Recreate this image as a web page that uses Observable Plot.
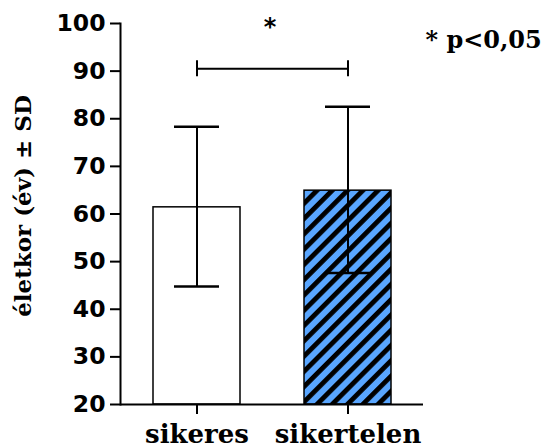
<!DOCTYPE html>
<html><head><meta charset="utf-8">
<script src="https://cdn.jsdelivr.net/npm/d3@7"></script>
<script src="https://cdn.jsdelivr.net/npm/@observablehq/plot@0.6"></script>
<style>body{margin:0;background:#fff}</style>
</head><body><div id="chart"></div>
<script>
const groups = ["sikeres", "sikertelen"];
const means = [61.4, 64.9];
const lower = [44.8, 47.6];
const upper = [78.3, 82.5];
const yTicks = [20, 30, 40, 50, 60, 70, 80, 90, 100];
const yMin = 20, yMax = 100;
const sigLevel = 90.5;
const sigLabel = "*";
const note = "* p<0,05";
const yLabel = "életkor (év) ± SD";

const data = groups.map((g, i) => ({group: g, mean: means[i], lo: lower[i], hi: upper[i]}));
const bracket = groups.map(g => ({group: g, y: sigLevel}));

const serif = "'DejaVu Serif', serif";
const sans = "'DejaVu Sans', sans-serif";

const plot = Plot.plot({
  width: 545, height: 448,
  marginLeft: 120, marginRight: 122, marginTop: 23, marginBottom: 44,
  style: {background: "white", color: "black", fontFamily: sans, fontWeight: "bold", overflow: "visible"},
  x: {domain: groups, paddingInner: 0.426, paddingOuter: 0.211, label: null},
  y: {domain: [yMin, yMax], label: null},
  color: {domain: groups, range: ["white", "url(#hatch)"]},
  marks: [
    Plot.barY(data, {x: "group", y1: yMin, y2: "mean", fill: "group", stroke: "black", strokeWidth: 1.5}),
    Plot.ruleX(data, {x: "group", y1: "lo", y2: "hi", strokeWidth: 2}),
    Plot.tickY(data, {x: "group", y: "lo", insetLeft: 21, insetRight: 21, strokeWidth: 2.5}),
    Plot.tickY(data, {x: "group", y: "hi", insetLeft: 21, insetRight: 21, strokeWidth: 2.5}),
    Plot.lineY(bracket, {x: "group", y: "y", strokeWidth: 2}),
    Plot.ruleX(bracket, {x: "group", y1: "y", y2: "y", insetTop: -8, insetBottom: -8, strokeWidth: 2}),
    Plot.text([sigLabel], {frameAnchor: "top", dx: -2, dy: 4, fontSize: 24, fontFamily: sans, fontWeight: "bold", lineAnchor: "middle"}),
    Plot.text([note], {frameAnchor: "top-right", textAnchor: "start", dx: 2, dy: 17, fontSize: 24, fontFamily: serif, fontWeight: "bold", lineAnchor: "middle"}),
    Plot.text([yLabel], {frameAnchor: "left", textAnchor: "middle", rotate: -90, dx: -97, dy: -8, fontSize: 23, fontFamily: serif, fontWeight: "bold", lineAnchor: "middle"}),
    Plot.axisY({ticks: yTicks, tickSize: 10, tickPadding: 5, fontSize: 23.5, fontFamily: sans, fontWeight: "bold", strokeWidth: 2, label: null}),
    Plot.axisX({tickSize: 10, tickPadding: 10, fontSize: 26, fontFamily: serif, fontWeight: "bold", strokeWidth: 2, label: null}),
    Plot.ruleY([yMin], {strokeWidth: 2}),
    Plot.frame({anchor: "left", strokeWidth: 2})
  ]
});

const ns = "http://www.w3.org/2000/svg";
const defs = document.createElementNS(ns, "defs");
const pat = document.createElementNS(ns, "pattern");
pat.setAttribute("id", "hatch");
pat.setAttribute("patternUnits", "userSpaceOnUse");
pat.setAttribute("width", "10.8");
pat.setAttribute("height", "10.8");
pat.setAttribute("patternTransform", "rotate(45)");
const bg = document.createElementNS(ns, "rect");
bg.setAttribute("width", "10.8"); bg.setAttribute("height", "10.8"); bg.setAttribute("fill", "#59a6ff");
const st = document.createElementNS(ns, "rect");
st.setAttribute("width", "4.8"); st.setAttribute("height", "10.8"); st.setAttribute("fill", "black");
pat.appendChild(bg); pat.appendChild(st);
defs.appendChild(pat);
plot.insertBefore(defs, plot.firstChild);
document.getElementById("chart").appendChild(plot);
</script>
</body></html>
